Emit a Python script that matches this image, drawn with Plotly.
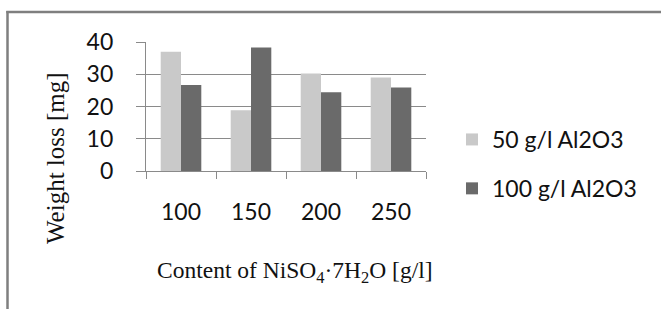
import plotly.graph_objects as go

categories = ["100", "150", "200", "250"]
series_names = ["50 g/l Al2O3", "100 g/l Al2O3"]
values_50 = [37.0, 18.8, 30.2, 29.0]
values_100 = [26.7, 38.3, 24.4, 25.9]
y_ticks = [0, 10, 20, 30, 40]

light = "#c9c9c9"
dark = "#6a6a6a"
grid = "#8a8a8a"

W, H = 661, 309
L, R, T, B = 146, 235, 42, 138
pw, ph = W - L - R, H - T - B

def px_x(p):
    return (p - L) / pw

def px_y(p):
    return (H - B - p) / ph

fig = go.Figure()
fig.add_trace(go.Bar(x=categories, y=values_50, name=series_names[0],
                     marker=dict(color=light, line=dict(width=0)), legendgroup="a"))
fig.add_trace(go.Bar(x=categories, y=values_100, name=series_names[1],
                     marker=dict(color=dark, line=dict(width=0)), legendgroup="b"))

tick_font = dict(family="Lato, 'Open Sans', sans-serif", size=23, color="#111111")
serif = dict(family="'Liberation Serif', 'Times New Roman', serif", size=23.5, color="#111111")
serif_y = dict(family="'Liberation Serif', 'Times New Roman', serif", size=25, color="#111111")

fig.update_layout(
    width=W, height=H,
    margin=dict(l=L, r=R, t=T, b=B),
    paper_bgcolor="white", plot_bgcolor="white",
    barmode="group", bargap=0.42, bargroupgap=0,
    showlegend=True,
    legend=dict(xref="container", yref="container", x=452 / W, y=1 - 118 / H,
                xanchor="left", yanchor="top", font=tick_font,
                traceorder="grouped", tracegroupgap=16, bgcolor="rgba(0,0,0,0)"),
    xaxis=dict(type="category", showgrid=False, showline=True, linecolor=grid, linewidth=1.3,
               ticks="outside", tickson="boundaries", ticklen=7, tickcolor=grid, tickwidth=1.3,
               tickfont=tick_font, ticklabelstandoff=20),
    yaxis=dict(range=[0, 40], tickvals=y_ticks, showgrid=True, gridcolor=grid, gridwidth=1.3,
               zeroline=False, showline=True, linecolor=grid, linewidth=1.3,
               ticks="outside", ticklen=9, tickcolor=grid, tickwidth=1.3,
               tickfont=tick_font, ticklabelstandoff=18),
    annotations=[
        dict(text="Weight loss [mg]", textangle=-90, xref="paper", yref="paper",
             x=px_x(55), y=px_y(158), xanchor="center", yanchor="middle",
             showarrow=False, font=serif_y),
        dict(text="Content of NiSO<sub>4</sub>\u00b77H<sub>2</sub>O [g/l]", xref="paper", yref="paper",
             x=px_x(295), y=px_y(272), xanchor="center", yanchor="middle",
             showarrow=False, font=serif),
    ],
    shapes=[
        dict(type="line", xref="paper", yref="paper", x0=px_x(7.5), x1=px_x(7.5),
             y0=px_y(11), y1=px_y(320), line=dict(color="#7f7f7f", width=2.5)),
        dict(type="line", xref="paper", yref="paper", x0=px_x(6.3), x1=px_x(670),
             y0=px_y(12), y1=px_y(12), line=dict(color="#7f7f7f", width=2.5)),
    ],
)

fig.write_html("out.html", config={"displayModeBar": False},
               post_script="document.body.style.margin='0';")
